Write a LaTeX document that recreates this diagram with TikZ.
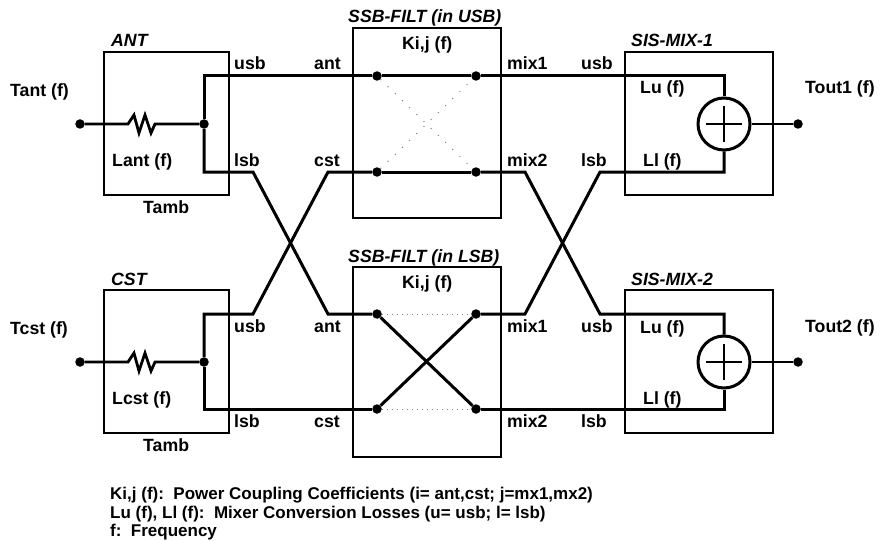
\documentclass[tikz,border=0pt]{standalone}
\usepackage{fontspec}
\setmainfont{Liberation Sans}
\tikzset{
  block/.style={draw, line width=1.5pt, minimum width=125pt, minimum height=143pt, inner sep=0pt},
  filt/.style={block, minimum width=148pt, minimum height=190pt},
  mixbox/.style={block, minimum width=148pt},
  wire/.style={line width=3pt, line join=miter},
  thinwire/.style={line width=2.8pt, line join=miter},
  hair/.style={line width=1pt, gray, dash pattern=on 1pt off 9pt},
  hairflat/.style={line width=1pt, gray, dash pattern=on 1pt off 4pt},
  dot/.style={circle, fill, inner sep=0pt, minimum size=9.5pt},
  sum/.style={draw, circle, line width=3pt, inner sep=0pt, minimum size=52pt},
  lbl/.style={anchor=base west, inner sep=0pt, font=\bfseries\fontsize{17.7}{20}\selectfont},
  ttl/.style={lbl, font=\bfseries\itshape\fontsize{17.7}{20}\selectfont},
  note/.style={lbl, font=\bfseries\fontsize{17}{19}\selectfont}
}
\begin{document}
\begin{tikzpicture}[x=1pt, y=-1pt]
    \useasboundingbox (0,0) rectangle (882,540);
    % blocks
    \node[block] (ant) at (166.5,123.5) {};
    \node[block] (cst) at (166.5,361.5) {};
    \node[filt] (fusb) at (427,123) {};
    \node[filt] (flsb) at (427,362) {};
    \node[mixbox] (mixa) at (699,123.5) {};
    \node[mixbox] (mixb) at (699,361.5) {};
    % points of the wires
    \node[dot] (tant) at (80,124) {};
    \node[dot] (tcst) at (80,362) {};
    \node[dot] (nant) at (204,124) {};
    \node[dot] (ncst) at (204,362) {};
    \node[dot] (ua) at (377,76) {};
    \node[dot] (uc) at (377,172) {};
    \node[dot] (um) at (476,76) {};
    \node[dot] (un) at (476,172) {};
    \node[dot] (la) at (377,314) {};
    \node[dot] (lc) at (377,409) {};
    \node[dot] (lm) at (476,314) {};
    \node[dot] (ln) at (476,409) {};
    \node[sum] (suma) at (724,124) {};
    \node[sum] (sumb) at (724,362) {};
    \node[dot] (touta) at (798,124) {};
    \node[dot] (toutb) at (798,362) {};
    % resistors
    \coordinate (ra) at (128,124);
    \coordinate (rb) at (155,124);
    \coordinate (rc) at (128,362);
    \coordinate (rd) at (155,362);
    \draw[thinwire] (tant) -- (ra) -- ++(6,-9) -- ++(5,18) -- ++(6,-18) -- ++(6,18) -- (rb) -- (nant);
    \draw[thinwire] (tcst) -- (rc) -- ++(6,-9) -- ++(5,18) -- ++(6,-18) -- ++(6,18) -- (rd) -- (ncst);
    % wires from ANT and CST
    \draw[wire] (ua) -- (nant |- ua) -- (nant);
    \draw[wire] (nant) -- (204,172) -- (253,172) -- (328,314) -- (la);
    \draw[wire] (lc) -- (ncst |- lc) -- (ncst);
    \draw[wire] (ncst) -- (204,314) -- (253,314) -- (328,172) -- (uc);
    % inside the filters
    \draw[wire] (ua) -- (um);
    \draw[wire] (uc) -- (un);
    \draw[hair] (ua) -- (un);
    \draw[hair] (uc) -- (um);
    \draw[wire] (la) -- (ln);
    \draw[wire] (lc) -- (lm);
    \draw[hairflat] (la) -- (lm);
    \draw[hairflat] (lc) -- (ln);
    % wires to the mixers
    \draw[wire] (um) -- (suma |- um) -- (suma);
    \draw[wire] (un) -- (525,172) -- (600,314) -- (sumb |- lm) -- (sumb);
    \draw[wire] (lm) -- (525,314) -- (600,172) -- (suma |- un) -- (suma);
    \draw[wire] (ln) -- (sumb |- ln) -- (sumb);
    % the two sums
    \draw[thinwire] ([xshift=-18pt]suma.center) -- ([xshift=18pt]suma.center);
    \draw[thinwire] ([yshift=-18pt]suma.center) -- ([yshift=18pt]suma.center);
    \draw[thinwire] ([xshift=-18pt]sumb.center) -- ([xshift=18pt]sumb.center);
    \draw[thinwire] ([yshift=-18pt]sumb.center) -- ([yshift=18pt]sumb.center);
    \draw[thinwire] (suma) -- (touta);
    \draw[thinwire] (sumb) -- (toutb);
    % titles
    \node[ttl] (antT) at (111,47) {ANT};
    \node[ttl] (cstT) at (111,285) {CST};
    \node[ttl] (fusbT) at (348,23) {SSB-FILT (in USB)};
    \node[ttl] (flsbT) at (348,262) {SSB-FILT (in LSB)};
    \node[ttl] (mixaT) at (631,47) {SIS-MIX-1};
    \node[ttl] (mixbT) at (631,285) {SIS-MIX-2};
    % labels
    \node[lbl] (tantL) at (10,97) {Tant (f)};
    \node[lbl] (tcstL) at (10,334) {Tcst (f)};
    \node[lbl] (lant) at (112,166) {Lant (f)};
    \node[lbl] (lcst) at (112,404) {Lcst (f)};
    \node[lbl] (tamba) at (143,213) {Tamb};
    \node[lbl] (tambb) at (143,451) {Tamb};
    \node[lbl] (usba) at (234,70) {usb};
    \node[lbl] (lsba) at (234,166) {lsb};
    \node[lbl] (usbb) at (234,332) {usb};
    \node[lbl] (lsbb) at (234,427) {lsb};
    \node[lbl] (anta) at (314,70) {ant};
    \node[lbl] (csta) at (314,166) {cst};
    \node[lbl] (antb) at (314,332) {ant};
    \node[lbl] (cstb) at (314,427) {cst};
    \node[lbl] (kua) at (402,50) {Ki,j (f)};
    \node[lbl] (kla) at (402,288) {Ki,j (f)};
    \node[lbl] (mixua) at (507,70) {mix1};
    \node[lbl] (mixub) at (507,166) {mix2};
    \node[lbl] (mixla) at (507,332) {mix1};
    \node[lbl] (mixlb) at (507,427) {mix2};
    \node[lbl] (usbc) at (581,70) {usb};
    \node[lbl] (lsbc) at (581,166) {lsb};
    \node[lbl] (usbd) at (581,332) {usb};
    \node[lbl] (lsbd) at (581,427) {lsb};
    \node[lbl] (lua) at (640,94) {Lu (f)};
    \node[lbl] (lla) at (643,166) {Ll (f)};
    \node[lbl] (lub) at (640,333) {Lu (f)};
    \node[lbl] (llb) at (643,404) {Ll (f)};
    \node[lbl] (touttA) at (805,94) {Tout1 (f)};
    \node[lbl] (touttB) at (805,332) {Tout2 (f)};
    % legend
    \node[note] (noteA) at (110,499) {Ki,j (f):\ \ Power Coupling Coefficients (i= ant,cst; j=mx1,mx2)};
    \node[note] (noteB) at (110,518) {Lu (f), Ll (f):\ \ Mixer Conversion Losses (u= usb; l= lsb)};
    \node[note] (noteC) at (110,536) {f:\ \ Frequency};
\end{tikzpicture}
\end{document}
